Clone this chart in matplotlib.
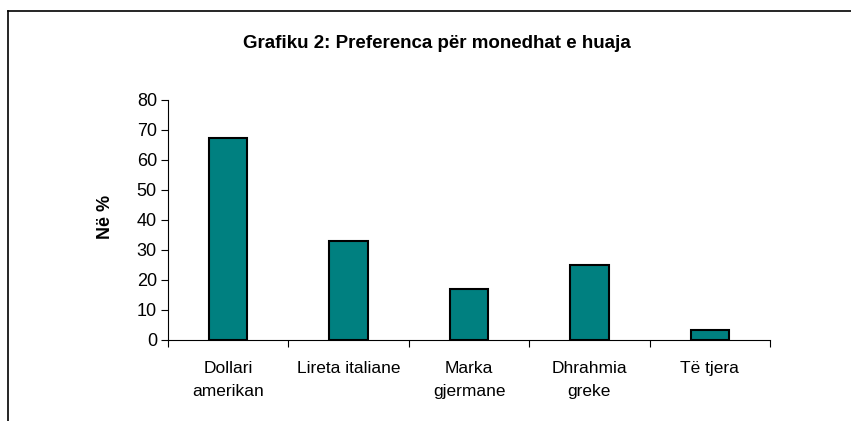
import matplotlib
matplotlib.use("Agg")
import matplotlib.pyplot as plt
from matplotlib.lines import Line2D
import numpy as np

plt.rcParams['font.family'] = ['Liberation Sans', 'DejaVu Sans']

# --- të dhënat ---
kategorite = ["Dollari\namerikan", "Lireta italiane", "Marka\ngjermane", "Dhrahmia\ngreke", "Të tjera"]
vlerat = [67.5, 33, 17, 25, 3.4]
y_ticks = [0, 10, 20, 30, 40, 50, 60, 70, 80]

fig = plt.figure(figsize=(8.51, 4.21), dpi=100)

# korniza: vetëm vija e majtë dhe e sipërme janë brenda figurës
x0, y0 = 7.5 / 851, 1 - 11 / 421
fig.add_artist(Line2D([x0, x0], [0, y0], transform=fig.transFigure, color='black', lw=1.2))
fig.add_artist(Line2D([x0, 1], [y0, y0], transform=fig.transFigure, color='black', lw=1.2))

ax = fig.add_axes([168 / 851, 1 - 340 / 421, (770 - 168) / 851, (340 - 100) / 421])

x = np.arange(len(kategorite))
ax.bar(x, vlerat, width=0.32, color='#008080', edgecolor='black', linewidth=1.5, zorder=3)

ax.set_xlim(-0.5, len(kategorite) - 0.5)
ax.set_ylim(0, 80)
ax.set_yticks(y_ticks)
ax.tick_params(axis='y', labelsize=13, length=5, width=0.8, pad=3)

# etiketat në qendër, vijat e ndarjes mes kategorive
ax.set_xticks(x)
ax.set_xticklabels(kategorite, fontsize=12.5, linespacing=1.65)
ax.tick_params(axis='x', which='major', length=0, pad=15)
ax.set_xticks(np.arange(len(kategorite) + 1) - 0.5, minor=True)
ax.tick_params(axis='x', which='minor', length=5, width=0.8)

for side in ['top', 'right']:
    ax.spines[side].set_visible(False)
ax.spines['left'].set_linewidth(0.8)
ax.spines['bottom'].set_linewidth(0.8)

fig.text(105 / 851, 1 - 217 / 421, "Në %", rotation=90,
         ha='center', va='center', fontsize=13, fontweight='bold')

fig.text(437 / 851, 1 - 43 / 421, "Grafiku 2: Preferenca për monedhat e huaja",
         ha='center', va='center', fontsize=13.5, fontweight='bold')

fig.savefig("out.png", dpi=100)
